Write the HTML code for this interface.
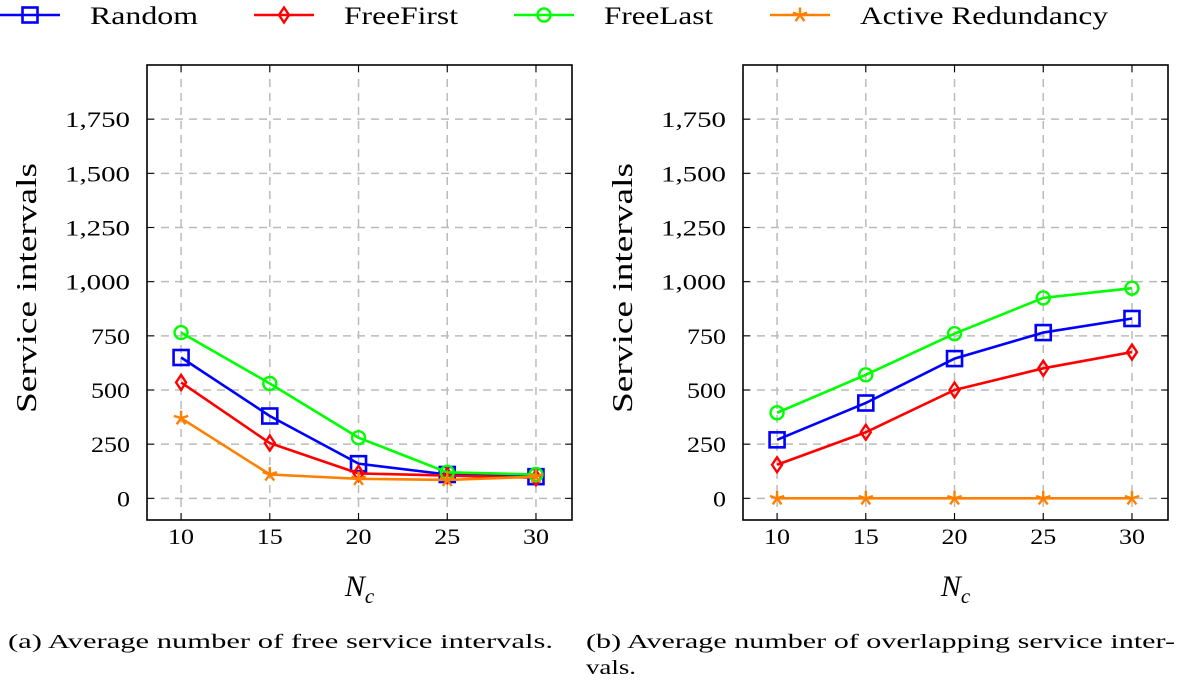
<!DOCTYPE html>
<html><head><meta charset="utf-8"><style>
html,body{margin:0;padding:0;background:#fff;}
svg{display:block;font-family:"Liberation Serif","DejaVu Serif",serif;}
</style></head><body>
<svg id="c" width="1181" height="682" viewBox="0 0 1181 682"></svg>
<script>
const categories=[10,15,20,25,30];
const yTicks=[0,250,500,750,1000,1250,1500,1750];
const yTickLabels=["0","250","500","750","1,000","1,250","1,500","1,750"];
const seriesNames=["Random","FreeFirst","FreeLast","Active Redundancy"];
const leftRandom=[650,380,160,110,100];
const leftFreeFirst=[535,255,115,105,95];
const leftFreeLast=[765,530,280,120,110];
const leftActive=[370,110,90,85,100];
const rightRandom=[270,440,645,765,830];
const rightFreeFirst=[155,305,500,600,675];
const rightFreeLast=[395,570,760,925,970];
const rightActive=[0,0,0,0,0];

const NS="http://www.w3.org/2000/svg";
const svg=document.getElementById('c');
function mk(tag,attrs,parent){const e=document.createElementNS(NS,tag);for(const k in attrs)e.setAttribute(k,attrs[k]);(parent||svg).appendChild(e);return e;}
const colors=["#0000ff","#ff0000","#00ff00","#ff8000"];
const markers=["square","diamond","circle","star"];
function marker(type,x,y,col,g){
  let e;
  if(type==="square")e=mk('rect',{x:x-7.5,y:y-7.5,width:15,height:15,fill:'none',stroke:col,'stroke-width':2.6},g);
  else if(type==="diamond")e=mk('polygon',{points:`${x},${y-7.5} ${x+5},${y} ${x},${y+7.5} ${x-5},${y}`,fill:'none',stroke:col,'stroke-width':2.4},g);
  else if(type==="circle")e=mk('circle',{cx:x,cy:y,r:6.5,fill:'none',stroke:col,'stroke-width':2.4},g);
  else{let d='';for(let i=0;i<5;i++){const a=-Math.PI/2+i*2*Math.PI/5;d+=`M${x},${y}L${x+7.5*Math.cos(a)},${y+7.5*Math.sin(a)}`;}
    e=mk('path',{d:d,stroke:col,'stroke-width':2.4,fill:'none'},g);}
  return e;
}
function tl(s){return s.length===1?13:(s.length===2?26:(s.length===3?39:65));}
function plot(x0,x1,name,data){
  const y0=65,y1=520,xmin=8.08,xmax=32.03,ymin=-100,ymax=2000;
  const sx=v=>x0+(v-xmin)/(xmax-xmin)*(x1-x0);
  const sy=v=>y1-(v-ymin)/(ymax-ymin)*(y1-y0);
  const g=mk('g',{});
  
  
  categories.forEach(c=>{const X=sx(c);
    const l=mk('line',{x1:X,x2:X,y1:y0,y2:y1,stroke:'#bbb','stroke-width':1.5,'stroke-dasharray':'8,6'},g);
    
    mk('line',{x1:X,x2:X,y1:y1,y2:y1-7,stroke:'#000'},g);mk('line',{x1:X,x2:X,y1:y0,y2:y0+7,stroke:'#000'},g);
    const t=mk('text',{x:X-13,y:544,'font-size':22,textLength:26,lengthAdjust:'spacingAndGlyphs'},g);t.textContent=c;
    });
  yTicks.forEach((v,i)=>{const Y=sy(v);
    const l=mk('line',{x1:x0,x2:x1,y1:Y,y2:Y,stroke:'#bbb','stroke-width':1.5,'stroke-dasharray':'8,6'},g);
    
    mk('line',{x1:x0,x2:x0+7,y1:Y,y2:Y,stroke:'#000'},g);mk('line',{x1:x1,x2:x1-7,y1:Y,y2:Y,stroke:'#000'},g);
    const s=yTickLabels[i],w=tl(s);
    const t=mk('text',{x:x0-17-w,y:Y+8,'font-size':22,textLength:w,lengthAdjust:'spacingAndGlyphs'},g);t.textContent=s;
    });
  const box=mk('rect',{x:x0,y:y0,width:x1-x0,height:y1-y0,fill:'none',stroke:'#000','stroke-width':1.6},g);
  
  const yt=mk('text',{x:-125,y:0,'font-size':28,textLength:250,lengthAdjust:'spacingAndGlyphs',transform:`translate(${x0-111},288) rotate(-90)`},g);
  yt.textContent='Service intervals';
  const xt=mk('text',{x:(x0+x1)/2,y:596,'font-size':30,'font-style':'italic','text-anchor':'middle'},g);
  xt.innerHTML='N<tspan font-size="21" dy="7">c</tspan>';
  data.forEach((arr,si)=>{
    const pts=arr.map((v,i)=>sx(categories[i])+','+sy(v)).join(' ');
    const pl=mk('polyline',{points:pts,fill:'none',stroke:colors[si],'stroke-width':2.6},g);
    
    
    arr.forEach((v,i)=>{const m=marker(markers[si],sx(categories[i]),sy(v),colors[si],g);
      });
  });
}
plot(147,572,'left-chart',[leftRandom,leftFreeFirst,leftFreeLast,leftActive]);
plot(743,1168,'right-chart',[rightRandom,rightFreeFirst,rightFreeLast,rightActive]);
const lx=[0,254,514,770];
const lw=[108,114,109,248];
const lg=mk('g',{});


seriesNames.forEach((n,i)=>{
  const x=lx[i];
  const e=mk('g',{},lg);
  
  
  mk('line',{x1:x,x2:x+60,y1:15,y2:15,stroke:colors[i],'stroke-width':2.6},e);
  marker(markers[i],x+30,15,colors[i],e);
  const t=mk('text',{x:x+90,y:24,'font-size':25,textLength:lw[i],lengthAdjust:'spacingAndGlyphs'},e);t.textContent=n;
});
const c1=mk('text',{x:8,y:648,'font-size':20,textLength:545,lengthAdjust:'spacingAndGlyphs'});c1.textContent='(a) Average number of free service intervals.';

const c2=mk('text',{x:586,y:648,'font-size':20,textLength:589,lengthAdjust:'spacingAndGlyphs'});c2.textContent='(b) Average number of overlapping service inter-';

const c3=mk('text',{x:586,y:674,'font-size':20,textLength:50,lengthAdjust:'spacingAndGlyphs'});c3.textContent='vals.';

</script>
</body></html>
